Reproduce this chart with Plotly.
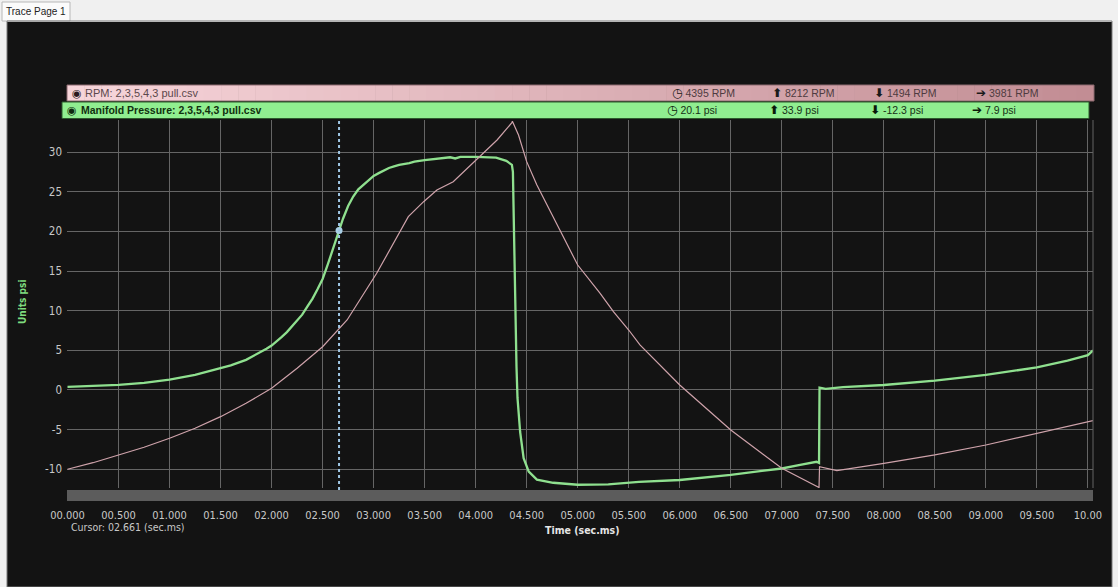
import plotly.graph_objects as go

# ---------------- data ----------------
map_time = [0.0, 0.25, 0.5, 0.75, 1.0, 1.25, 1.5, 1.6, 1.75, 1.85, 1.9, 1.95, 2.0, 2.05, 2.1, 2.15, 2.2, 2.25, 2.3,
            2.35, 2.4, 2.45, 2.5, 2.55, 2.6, 2.661, 2.7, 2.75, 2.8, 2.85, 2.9, 2.95, 3.0, 3.05,
            3.1, 3.15, 3.2, 3.25, 3.35, 3.4, 3.5, 3.65, 3.75, 3.8, 3.85, 4.0, 4.2, 4.3, 4.355,
            4.365, 4.38, 4.40, 4.41, 4.436, 4.47, 4.52, 4.6, 4.76, 5.0, 5.3, 5.6, 6.0, 6.5,
            7.0, 7.18, 7.34, 7.365, 7.37, 7.43, 7.6, 8.0, 8.5, 9.0, 9.5, 9.8, 10.0, 10.05]
map_psi = [0.4, 0.5, 0.65, 0.9, 1.3, 1.9, 2.7, 3.1, 3.8, 4.45, 4.8, 5.2, 5.6, 6.1, 6.7, 7.3, 8.0, 8.7, 9.5,
           10.5, 11.5, 12.7, 14.0, 15.8, 17.8, 20.1, 21.6, 23.2, 24.4, 25.3, 25.9, 26.5, 27.0, 27.35,
           27.7, 28.0, 28.2, 28.4, 28.6, 28.8, 29.0, 29.2, 29.35, 29.2, 29.4, 29.4, 29.3, 28.9, 28.4,
           27.5, 15.0, 3.0, -1.0, -5.3, -8.6, -10.3, -11.3, -11.7, -11.95, -11.9, -11.6, -11.35, -10.7,
           -9.9, -9.45, -9.05, -9.2, 0.3, 0.15, 0.35, 0.63, 1.17, 1.9, 2.85, 3.7, 4.4, 5.0]

rpm_time = [0.0, 0.25, 0.5, 0.75, 1.0, 1.25, 1.5, 1.75, 2.0, 2.25, 2.5, 2.661, 2.74, 3.03,
            3.34, 3.49, 3.62, 3.78, 3.92, 4.04, 4.21, 4.355, 4.36, 4.42, 4.5, 4.6, 5.0, 5.22,
            5.35, 5.5, 5.61, 6.0, 6.5, 7.0, 7.365, 7.37, 7.54, 8.0, 8.5, 9.0, 9.5, 10.05]
rpm_values = [1828, 1949, 2091, 2232, 2397, 2580, 2793, 3038, 3313, 3681, 4076, 4395, 4566, 5422,
              6460, 6735, 6950, 7102, 7347, 7560, 7866, 8183, 8212, 7958, 7469, 7041, 5574, 5055,
              4718, 4382, 4108, 3374, 2549, 1847, 1494, 1876, 1803, 1938, 2091, 2274, 2488, 2720]

x_ticks = [i * 0.5 for i in range(21)]
x_tick_labels = ["00.000", "00.500", "01.000", "01.500", "02.000", "02.500", "03.000", "03.500",
                 "04.000", "04.500", "05.000", "05.500", "06.000", "06.500", "07.000", "07.500",
                 "08.000", "08.500", "09.000", "09.500", "10.00"]
y_ticks = [-10, -5, 0, 5, 10, 15, 20, 25, 30]
y_tick_labels = ["-10", "-5", "0", "5", "10", "15", "20", "25", "30"]

cursor_time = 2.661
cursor_psi = 20.1

rpm_stats = ["4395 RPM", "8212 RPM", "1494 RPM", "3981 RPM"]
map_stats = ["20.1 psi", "33.9 psi", "-12.3 psi", "7.9 psi"]

# ---------------- layout helpers ----------------
W, H = 1118, 587
L, R, T, B = 67, 1093, 120, 488


def px(x):
    return (x - L) / (R - L)


def py(y):
    return (B - y) / (B - T)


TICK_FONT = "Liberation Sans Narrow, DejaVu Sans Condensed, Arial Narrow, sans-serif"
UI_FONT = "Liberation Sans, Arial, DejaVu Sans, sans-serif"
DARK = "#131313"
GRID = "#656565"

fig = go.Figure()
fig.add_trace(go.Scatter(x=rpm_time, y=rpm_values, yaxis="y2", mode="lines",
                         line=dict(color="#cfa3ab", width=1.2), hoverinfo="skip"))
fig.add_trace(go.Scatter(x=map_time, y=map_psi, mode="lines",
                         line=dict(color="#8fe08f", width=2.3), hoverinfo="skip"))
fig.add_trace(go.Scatter(x=[cursor_time], y=[cursor_psi], mode="markers",
                         marker=dict(color="#a9cfe6", size=7), hoverinfo="skip"))

shapes = []
# light surround + tab
shapes.append(dict(type="rect", xref="paper", yref="paper", x0=px(0), x1=px(W), y0=py(22), y1=py(0),
                   fillcolor="#f0f0f0", line=dict(width=0), layer="below"))
shapes.append(dict(type="rect", xref="paper", yref="paper", x0=px(0), x1=px(7), y0=py(H), y1=py(0),
                   fillcolor="#f0f0f0", line=dict(width=0), layer="below"))
shapes.append(dict(type="rect", xref="paper", yref="paper", x0=px(1112), x1=px(W), y0=py(H), y1=py(0),
                   fillcolor="#f0f0f0", line=dict(width=0), layer="below"))
shapes.append(dict(type="rect", xref="paper", yref="paper", x0=px(2), x1=px(70), y0=py(21), y1=py(2),
                   fillcolor="#fbfbfb", line=dict(color="#b8b8b8", width=1), layer="below"))
shapes.append(dict(type="rect", xref="paper", yref="paper", x0=px(7), x1=px(1112), y0=py(H), y1=py(21),
                   fillcolor="rgba(0,0,0,0)", line=dict(color="#7a7a7a", width=1), layer="below"))

# RPM legend bar with gradient
n = 60
c0 = (0xf7, 0xd5, 0xda)
c1 = (0xc2, 0x8d, 0x94)
bx0, bx1 = 67, 1094
for i in range(n):
    f = i / (n - 1)
    col = "rgb(%d,%d,%d)" % tuple(round(c0[k] + (c1[k] - c0[k]) * f) for k in range(3))
    xa = bx0 + (bx1 - bx0) * i / n
    xb = bx0 + (bx1 - bx0) * (i + 1) / n + 0.6
    shapes.append(dict(type="rect", xref="paper", yref="paper", x0=px(xa), x1=px(min(xb, bx1)),
                       y0=py(101), y1=py(85), fillcolor=col, line=dict(width=0)))
shapes.append(dict(type="rect", xref="paper", yref="paper", x0=px(bx0), x1=px(bx1), y0=py(101), y1=py(85),
                   fillcolor="rgba(0,0,0,0)", line=dict(color="#8d6a70", width=1)))
# MAP legend bar
shapes.append(dict(type="rect", xref="paper", yref="paper", x0=px(62), x1=px(1089), y0=py(118.5), y1=py(102),
                   fillcolor="#90ee90", line=dict(color="#2d5a2d", width=1)))
# scrollbar
shapes.append(dict(type="rect", xref="paper", yref="paper", x0=px(67), x1=px(1093), y0=py(501), y1=py(490),
                   fillcolor="#5c5c5c", line=dict(width=0)))
# right border of plot
shapes.append(dict(type="line", xref="paper", yref="paper", x0=1, x1=1, y0=0, y1=1,
                   line=dict(color=GRID, width=1)))
# cursor line
shapes.append(dict(type="line", xref="x", yref="paper", x0=cursor_time, x1=cursor_time, y0=py(490), y1=1,
                   line=dict(color="#9fc6e4", width=2, dash="dot")))

ann = []


def add_text(x, y, text, size=10, color="#c8c8c8", xanchor="left", bold=False, family=UI_FONT, angle=0):
    ann.append(dict(xref="paper", yref="paper", x=px(x), y=py(y), text=("<b>%s</b>" % text) if bold else text,
                    showarrow=False, xanchor=xanchor, yanchor="middle", textangle=angle,
                    font=dict(size=size, color=color, family=family)))


add_text(36, 11.5, "Trace Page 1", size=10, color="#222222", xanchor="center")
add_text(70, 93, "◉", size=11, color="#2a1a1e")
add_text(83, 93, "RPM: 2,3,5,4,3 pull.csv", size=11, color="#5b484c")
add_text(65, 110, "◉", size=11, color="#0f2a0f")
add_text(79, 110, "Manifold Pressure: 2,3,5,4,3 pull.csv", size=10.5, color="#10300f", bold=True)

icons = ["◷", "⬆", "⬇", "➔"]
rpm_x = [670, 770, 872, 974]
map_x = [665, 767, 868, 970]
for ic, sx, s in zip(icons, rpm_x, rpm_stats):
    add_text(sx, 93, "<b><span style='font-size:12px;color:#1a1a1a'>%s</span></b> %s" % (ic, s),
             size=10.5, color="#4e3b40")
for ic, sx, s in zip(icons, map_x, map_stats):
    add_text(sx, 110, "<b><span style='font-size:12px;color:#0a1a0a'>%s</span></b> %s" % (ic, s),
             size=10.5, color="#163016")

add_text(22, 302, "Units psi", size=10, color="#7fdc7f", xanchor="center", bold=True, angle=-90, family=TICK_FONT)
add_text(69, 527, "Cursor: 02.661 (sec.ms)", size=10.5, color="#c8c8c8", family=TICK_FONT)
add_text(582, 530, "Time (sec.ms)", size=10.5, color="#e6e6e6", xanchor="center", bold=True, family=TICK_FONT)

fig.update_layout(
    width=W, height=H,
    margin=dict(l=L, r=W - R, t=T, b=H - B, pad=0),
    paper_bgcolor=DARK, plot_bgcolor=DARK,
    showlegend=False,
    shapes=shapes,
    annotations=ann,
    xaxis=dict(range=[-0.005, 10.05], tickvals=x_ticks, ticktext=x_tick_labels,
               showgrid=True, gridcolor=GRID, gridwidth=1, zeroline=False, showline=False,
               ticks="", ticklabelstandoff=19,
               tickfont=dict(size=11, color="#c8c8c8", family=TICK_FONT), fixedrange=True),
    yaxis=dict(range=[-12.36, 34.05], tickvals=y_ticks, ticktext=y_tick_labels,
               showgrid=True, gridcolor=GRID, gridwidth=1, zeroline=False, showline=False,
               ticks="", ticklabelstandoff=4,
               tickfont=dict(size=11.5, color="#c8c8c8", family=TICK_FONT), fixedrange=True),
    yaxis2=dict(range=[1485, 8233], overlaying="y", visible=False, fixedrange=True),
)

fig.write_html("out.html", config={"displayModeBar": False},
               post_script="document.body.style.margin='0px';document.body.style.overflow='hidden';")
